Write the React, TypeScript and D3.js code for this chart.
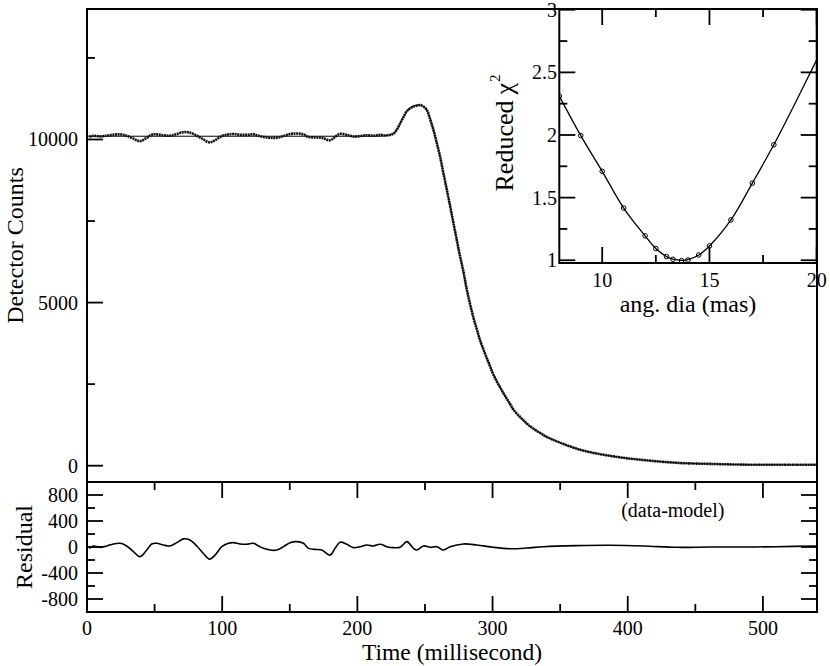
import React from "react";
import * as d3 from "d3";

// ---- main light curve ----
const DATA_T = [1.7, 4.7, 9.6, 14.6, 19.5, 24.4, 28.1, 33.1, 39.2, 44.2, 47.9, 51.6, 56.5, 61.4, 66.4, 71.3, 76.2, 81.2, 86.1, 90.5, 94.7, 99.7, 104.6, 108.3, 113.2, 118.2, 123.1, 126.8, 130.5, 135.4, 140.4, 145.3, 150.2, 155.2, 160.1, 163.8, 168.7, 173.7, 179.8, 183.5, 187.2, 192.2, 197.1, 202, 207, 211.9, 216.8, 221.8, 226.7, 229, 231.6, 234, 236.6, 241.5, 244, 246.4, 248.9, 251.4, 253.8, 256.3, 258.8, 261.2, 263.7, 266.2, 268.6, 271.1, 276, 278.5, 281, 285.9, 288.4, 290.8, 298.2, 300.7, 308, 313, 315.5, 325.4, 327.8, 337.7, 340.2, 364.8, 389.5, 414.2, 438.8, 463.5, 488.2, 513, 540];
const DATA_C = [10079, 10116, 10095, 10116, 10147, 10157, 10131, 10053, 9950, 10053, 10147, 10157, 10131, 10116, 10167, 10225, 10209, 10116, 10001, 9913, 9975, 10105, 10157, 10167, 10147, 10142, 10157, 10116, 10079, 10053, 10053, 10105, 10167, 10183, 10157, 10079, 10064, 10053, 9975, 10079, 10173, 10142, 10090, 10105, 10131, 10116, 10142, 10125, 10180, 10290, 10490, 10680, 10870, 11010, 11040, 11057, 11010, 10903, 10620, 10290, 9880, 9473, 8950, 8453, 7960, 7433, 6410, 5950, 5390, 4530, 4180, 3840, 3041, 2780, 2226, 1890, 1715, 1290, 1204, 940, 879, 490, 285, 162, 83, 52, 31, 28, 28];

const MODEL_T = [0, 216, 221.8, 226.7, 229, 231.6, 234, 237.5, 241.5, 246.4, 251.4, 256.3, 261.2, 266.2, 271.1, 276, 281, 285.9, 288.4, 290.8, 298.2, 308, 315.5, 327.8, 340.2, 364.8, 389.5, 414.2, 438.8, 463.5, 488.2, 513, 540];
const MODEL_C = [10100, 10100, 10120, 10190, 10290, 10490, 10680, 10900, 11026, 11057, 10903, 10290, 9473, 8453, 7433, 6410, 5390, 4530, 4180, 3840, 3041, 2226, 1715, 1204, 879, 490, 285, 162, 83, 52, 31, 28, 28];

// ---- residual (data - model) ----
const RES_T = [1.7, 4.7, 9.6, 14.6, 19.5, 24.4, 28.1, 33.1, 39.2, 44.2, 47.9, 51.6, 56.5, 61.4, 66.4, 71.3, 76.2, 81.2, 86.1, 90.5, 94.7, 99.7, 104.6, 108.3, 113.2, 118.2, 123.1, 126.8, 130.5, 135.4, 140.4, 145.3, 150.2, 155.2, 160.1, 163.8, 168.7, 173.7, 179.8, 183.5, 187.2, 192.2, 197.1, 202, 207, 211.9, 216.8, 221.8, 226.7, 231.6, 236.6, 241.5, 244, 248.9, 253.8, 258.8, 263.7, 268.6, 278.5, 288.4, 300.7, 313, 325.4, 337.7, 362.4, 387, 411.7, 436.4, 461, 485.7, 510.4, 540];
const RES_V = [-21, 16, -5, 16, 47, 57, 31, -47, -150, -47, 47, 57, 31, 16, 67, 125, 109, 16, -99, -187, -125, 5, 57, 67, 47, 42, 57, 16, -21, -47, -47, 5, 67, 83, 57, -21, -36, -47, -125, -21, 73, 42, -10, 5, 31, 16, 42, 5, -10, -5, 83, -21, -47, 16, -5, 5, -47, 5, 47, 31, -5, -26, -16, 5, 21, 26, 16, -5, 0, 0, 5, 16];

// ---- inset: reduced chi^2 vs angular diameter ----
const CHI_DIA = [8, 9, 10, 11, 12, 12.5, 13, 13.3, 13.7, 14, 14.5, 15, 16, 17, 18];
const CHI_VAL = [2.31, 1.995, 1.71, 1.417, 1.195, 1.093, 1.029, 1.008, 0.997, 1.002, 1.042, 1.114, 1.322, 1.616, 1.922];
const FIT_DIA = [8, 9, 10, 11, 12, 12.5, 13, 13.3, 13.7, 14, 14.5, 15, 16, 17, 18, 19, 20];
const FIT_VAL = [2.31, 1.995, 1.71, 1.417, 1.195, 1.093, 1.029, 1.008, 0.999, 1.004, 1.042, 1.114, 1.322, 1.616, 1.922, 2.256, 2.6];

// ---- ticks ----
const TIME_TICKS = [0, 100, 200, 300, 400, 500];
const TIME_MINOR = [50, 150, 250, 350, 450];
const COUNT_TICKS = [0, 5000, 10000];
const COUNT_MINOR = [2500, 7500, 12500];
const RES_TICKS = [-800, -400, 0, 400, 800];
const RES_MINOR = [-600, -200, 200, 600];
const DIA_TICKS = [10, 15, 20];
const DIA_MINOR = [12.5, 17.5];
const CHI_TICKS = [1, 1.5, 2, 2.5, 3];
const CHI_MINOR = [1.25, 1.75, 2.25, 2.75];

const FONT = '"Liberation Serif", "DejaVu Serif", serif';
const MAJOR = 16;
const MINOR = 8;

export default function App() {
  const L = 87, R = 817, T = 9, MID = 482, B = 612;
  const x = d3.scaleLinear().domain([0, 540]).range([L, R]);
  const yMain = d3.scaleLinear().domain([-500, 14000]).range([MID, T]);
  const yRes = d3.scaleLinear().domain([-1000, 1000]).range([B, MID]);

  const IL = 559.3, IR = 816.7, IT = 9, IB = 263;
  const xIn = d3.scaleLinear().domain([8, 20]).range([IL, IR]);
  const yIn = d3.scaleLinear().domain([0.978, 3.006]).range([IB, IT]);

  const dataPath = d3
    .line<number>()
    .x((_, i) => x(DATA_T[i]))
    .y((d) => yMain(d))
    .curve(d3.curveCatmullRom)(DATA_C);
  const modelPath = d3
    .line<number>()
    .x((_, i) => x(MODEL_T[i]))
    .y((d) => yMain(d))
    .curve(d3.curveMonotoneX)(MODEL_C);
  const resPath = d3
    .line<number>()
    .x((_, i) => x(RES_T[i]))
    .y((d) => yRes(d))
    .curve(d3.curveCatmullRom)(RES_V);
  const fitPath = d3
    .line<number>()
    .x((_, i) => xIn(FIT_DIA[i]))
    .y((d) => yIn(d))
    .curve(d3.curveCatmullRom)(FIT_VAL);

  const tickStroke = { stroke: "#000", strokeWidth: 1.8 };

  return (
    <svg
      width={830}
      height={666}
      style={{ position: "absolute", left: 0, top: 0, background: "#fff", fontFamily: FONT }}
    >
      <defs>
        <clipPath id="clipMain">
          <rect x={L} y={T} width={R - L} height={MID - T} />
        </clipPath>
        <clipPath id="clipRes">
          <rect x={L} y={MID} width={R - L} height={B - MID} />
        </clipPath>
        <clipPath id="clipIn">
          <rect x={IL} y={IT} width={IR - IL} height={IB - IT} />
        </clipPath>
      </defs>

      {/* main panel curves */}
      <g clipPath="url(#clipMain)" fill="none">
        <path d={modelPath || ""} stroke="#000" strokeWidth={1} />
        <path d={dataPath || ""} stroke="#111" strokeWidth={2.6} strokeDasharray="2 0.6" />
      </g>

      {/* main y ticks (left only) */}
      {COUNT_TICKS.map((v) => (
        <g key={"cy" + v}>
          <line x1={L} x2={L + MAJOR} y1={yMain(v)} y2={yMain(v)} {...tickStroke} />
          <text x={L - 9} y={yMain(v) + 7} fontSize={20} textAnchor="end">
            {v}
          </text>
        </g>
      ))}
      {COUNT_MINOR.map((v) => (
        <line key={"cm" + v} x1={L} x2={L + MINOR} y1={yMain(v)} y2={yMain(v)} {...tickStroke} />
      ))}

      {/* residual panel */}
      <g clipPath="url(#clipRes)" fill="none">
        <path d={resPath || ""} stroke="#000" strokeWidth={1.6} />
      </g>
      {RES_TICKS.map((v) => (
        <g key={"ry" + v}>
          <line x1={L} x2={L + MAJOR} y1={yRes(v)} y2={yRes(v)} {...tickStroke} />
          <line x1={R} x2={R - MAJOR} y1={yRes(v)} y2={yRes(v)} {...tickStroke} />
          <text x={L - 9} y={yRes(v) + 7} fontSize={20} textAnchor="end">
            {v}
          </text>
        </g>
      ))}
      {RES_MINOR.map((v) => (
        <g key={"rm" + v}>
          <line x1={L} x2={L + MINOR} y1={yRes(v)} y2={yRes(v)} {...tickStroke} />
          <line x1={R} x2={R - MINOR} y1={yRes(v)} y2={yRes(v)} {...tickStroke} />
        </g>
      ))}
      {TIME_TICKS.map((v) => (
        <g key={"tx" + v}>
          <line x1={x(v)} x2={x(v)} y1={MID} y2={MID + MAJOR} {...tickStroke} />
          <line x1={x(v)} x2={x(v)} y1={B} y2={B - MAJOR} {...tickStroke} />
          <text x={x(v)} y={635} fontSize={20} textAnchor="middle">
            {v}
          </text>
        </g>
      ))}
      {TIME_MINOR.map((v) => (
        <g key={"tm" + v}>
          <line x1={x(v)} x2={x(v)} y1={MID} y2={MID + MINOR} {...tickStroke} />
          <line x1={x(v)} x2={x(v)} y1={B} y2={B - MINOR} {...tickStroke} />
        </g>
      ))}
      <text x={672.8} y={516.5} fontSize={20} textAnchor="middle">
        (data-model)
      </text>

      {/* inset */}
      <rect x={IL} y={IT} width={IR - IL} height={IB - IT} fill="#fff" />
      <g clipPath="url(#clipIn)">
        <path d={fitPath || ""} fill="none" stroke="#000" strokeWidth={1.3} />
        {CHI_DIA.map((d, i) => (
          <circle key={"pt" + i} cx={xIn(d)} cy={yIn(CHI_VAL[i])} r={2.3} fill="none" stroke="#000" strokeWidth={1} />
        ))}
      </g>
      {CHI_TICKS.map((v) => (
        <g key={"iy" + v}>
          <line x1={IL} x2={IL + MAJOR} y1={yIn(v)} y2={yIn(v)} {...tickStroke} />
          <line x1={IR} x2={IR - MAJOR} y1={yIn(v)} y2={yIn(v)} {...tickStroke} />
          <text x={557} y={yIn(v) + 7} fontSize={20} textAnchor="end">
            {v}
          </text>
        </g>
      ))}
      {CHI_MINOR.map((v) => (
        <g key={"im" + v}>
          <line x1={IL} x2={IL + MINOR} y1={yIn(v)} y2={yIn(v)} {...tickStroke} />
          <line x1={IR} x2={IR - MINOR} y1={yIn(v)} y2={yIn(v)} {...tickStroke} />
        </g>
      ))}
      {DIA_TICKS.map((v) => (
        <g key={"ix" + v}>
          <line x1={xIn(v)} x2={xIn(v)} y1={IT} y2={IT + MAJOR} {...tickStroke} />
          <line x1={xIn(v)} x2={xIn(v)} y1={IB} y2={IB - MAJOR} {...tickStroke} />
          <text x={xIn(v)} y={286.7} fontSize={20} textAnchor="middle">
            {v}
          </text>
        </g>
      ))}
      {DIA_MINOR.map((v) => (
        <g key={"ixm" + v}>
          <line x1={xIn(v)} x2={xIn(v)} y1={IT} y2={IT + MINOR} {...tickStroke} />
          <line x1={xIn(v)} x2={xIn(v)} y1={IB} y2={IB - MINOR} {...tickStroke} />
        </g>
      ))}
      <rect x={IL} y={IT} width={IR - IL} height={IB - IT} fill="none" stroke="#000" strokeWidth={2} />
      <text x={688} y={311.5} fontSize={24} textAnchor="middle">
        ang. dia (mas)
      </text>
      <text transform="translate(513,191.5) rotate(-90)" fontSize={26} textAnchor="start">
        Reduced
        <tspan dx={6}>χ</tspan>
        <tspan dy={-13} dx={1} fontSize={15}>2</tspan>
      </text>

      {/* frames */}
      <rect x={L} y={T} width={R - L} height={MID - T} fill="none" stroke="#000" strokeWidth={2} />
      <rect x={L} y={MID} width={R - L} height={B - MID} fill="none" stroke="#000" strokeWidth={2} />

      {/* axis titles */}
      <text transform={`translate(23,${(T + MID) / 2}) rotate(-90)`} fontSize={24} textAnchor="middle">
        Detector Counts
      </text>
      <text transform={`translate(32,${(MID + B) / 2}) rotate(-90)`} fontSize={24} textAnchor="middle">
        Residual
      </text>
      <text x={452} y={660} fontSize={23.5} textAnchor="middle">
        Time (millisecond)
      </text>
    </svg>
  );
}
